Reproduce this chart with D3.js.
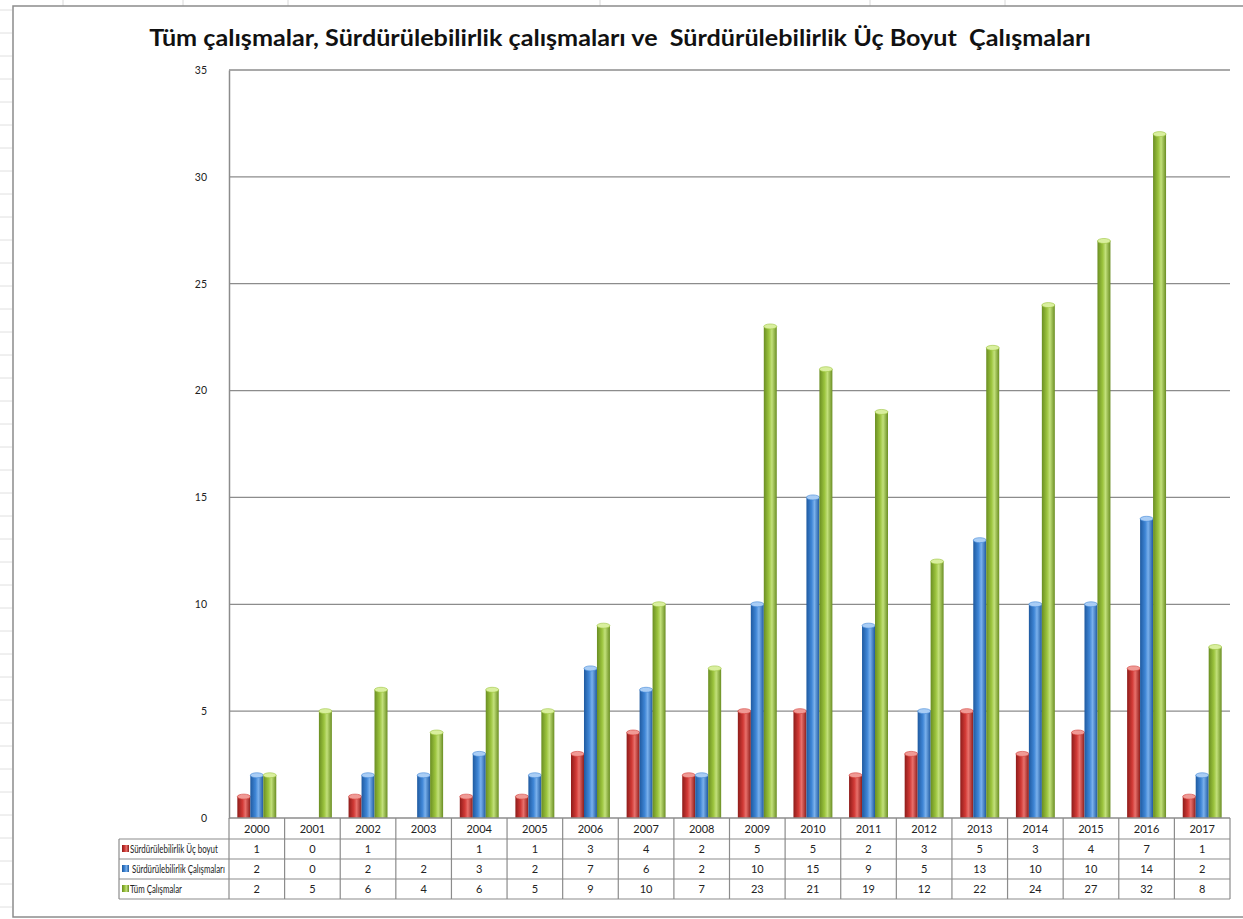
<!DOCTYPE html>
<html>
<head>
<meta charset="utf-8">
<script src="https://cdn.jsdelivr.net/npm/d3@7/dist/d3.min.js"></script>
<style>
  html, body { margin: 0; padding: 0; background: #fff; }
  svg { display: block; }
  text.pre { white-space: pre; }
</style>
</head>
<body>
<svg id="chart" width="1243" height="919"></svg>
<script>
// ---- DATA ----
const years = ["2000","2001","2002","2003","2004","2005","2006","2007","2008","2009","2010","2011","2012","2013","2014","2015","2016","2017"];
const seriesNames = ["Sürdürülebilirlik Üç boyut", " Sürdürülebilirlik Çalışmaları", "Tüm Çalışmalar"];
const ucBoyut   = [1, 0, 1, null, 1, 1, 3, 4, 2, 5, 5, 2, 3, 5, 3, 4, 7, 1];
const surdCalis = [2, 0, 2, 2, 3, 2, 7, 6, 2, 10, 15, 9, 5, 13, 10, 10, 14, 2];
const tumCalis  = [2, 5, 6, 4, 6, 5, 9, 10, 7, 23, 21, 19, 12, 22, 24, 27, 32, 8];
const yTicks = [0, 5, 10, 15, 20, 25, 30, 35];
const titleText = "Tüm çalışmalar, Sürdürülebilirlik çalışmaları ve  Sürdürülebilirlik Üç Boyut  Çalışmaları";

const seriesValues = [ucBoyut, surdCalis, tumCalis];
const colors = [
  {dark: "#8e1c1a", mid: "#d23a36", light: "#e8706b", cap: "#f09a95"},
  {dark: "#1f5aa0", mid: "#3f86d6", light: "#79b0ec", cap: "#a9cdf5"},
  {dark: "#6a8e22", mid: "#9cc43e", light: "#c2e07a", cap: "#d9ef9e"}
];
const labelWidths = [88, 95, 52];

const svg = d3.select("#chart");
const W = 1243, H = 919;

// sheet background lines (behind chart)
const bg = svg.append("g");
[63, 183, 288, 600, 870, 1005].forEach(x => {
  bg.append("line").attr("x1", x).attr("x2", x).attr("y1", 0).attr("y2", 6)
    .attr("stroke", "#d8d8d8").attr("stroke-width", 1);
});
for (let y = 10; y < H; y += 23) {
  bg.append("line").attr("x1", 0).attr("x2", 12).attr("y1", y).attr("y2", y)
    .attr("stroke", "#e0e0e0").attr("stroke-width", 1);
}

// chart frame
svg.append("rect").attr("x", 13).attr("y", 6).attr("width", W).attr("height", 911)
  .attr("fill", "#fff").attr("stroke", "#8c8c8c").attr("stroke-width", 1.5);

// gradients
const defs = svg.append("defs");
colors.forEach((c, i) => {
  const g = defs.append("linearGradient").attr("id", "grad" + i)
    .attr("x1", "0%").attr("x2", "100%").attr("y1", "0%").attr("y2", "0%");
  g.append("stop").attr("offset", "0%").attr("stop-color", c.dark);
  g.append("stop").attr("offset", "40%").attr("stop-color", c.mid);
  g.append("stop").attr("offset", "62%").attr("stop-color", c.light);
  g.append("stop").attr("offset", "100%").attr("stop-color", c.dark);
});

const plotL = 229, plotR = 1230, plotT = 70, plotB = 818;

const x = d3.scaleBand().domain(years).range([plotL, plotR]).padding(0);
const x1 = d3.scaleBand().domain([0, 1, 2])
  .range([x.bandwidth() * 0.15, x.bandwidth() * 0.85]).padding(0);
const y = d3.scaleLinear().domain([0, 35]).range([plotB, plotT]);

// helper: horizontally scale a text to a target width via transform
function fitWidth(sel, x0, y0, target, anchorMiddle) {
  const node = sel.node();
  const w = node.getComputedTextLength();
  const sx = target / w;
  sel.attr("x", 0).attr("y", 0)
    .attr("transform", `translate(${x0},${y0}) scale(${sx},1)`);
}

// title
const title = svg.append("text").attr("class", "pre").attr("text-anchor", "middle")
  .attr("font-family", "Lato, 'Open Sans', sans-serif").attr("font-weight", "bold")
  .attr("font-size", 22).attr("fill", "#111")
  .text(titleText);
fitWidth(title, 620, 46, 942);

// gridlines
svg.append("g").selectAll("line").data(yTicks.filter(d => d > 0)).join("line")
  .attr("x1", plotL).attr("x2", plotR)
  .attr("y1", d => y(d)).attr("y2", d => y(d))
  .attr("stroke", "#8c8c8c").attr("stroke-width", 1.3);

// y axis
const yAxis = d3.axisLeft(y).tickValues(yTicks).tickSize(0).tickPadding(22);
const yg = svg.append("g").attr("transform", `translate(${plotL},0)`).call(yAxis);
yg.select(".domain").attr("stroke", "#8c8c8c").attr("stroke-width", 1.5);
yg.selectAll("text").attr("font-family", "Lato, 'Open Sans', sans-serif")
  .attr("font-size", 10.5).attr("fill", "#222");

// bars
const bars = svg.append("g");
years.forEach((yr, i) => {
  seriesValues.forEach((vals, s) => {
    const v = vals[i];
    if (!v) return;
    const bx = x(yr) + x1(s);
    const bw = x1.bandwidth();
    const top = y(v);
    const ry = 2.5;
    bars.append("rect").attr("x", bx).attr("y", top).attr("width", bw)
      .attr("height", plotB - top).attr("fill", `url(#grad${s})`);
    bars.append("ellipse").attr("cx", bx + bw / 2).attr("cy", top)
      .attr("rx", bw / 2).attr("ry", ry).attr("fill", colors[s].cap)
      .attr("stroke", colors[s].mid).attr("stroke-width", 0.6);
  });
});

// x axis baseline
svg.append("line").attr("x1", plotL).attr("x2", plotR).attr("y1", plotB).attr("y2", plotB)
  .attr("stroke", "#8c8c8c").attr("stroke-width", 1.5);

// data table
const rowTop = [plotB, plotB + 21, plotB + 41, plotB + 61];
const tableBottom = plotB + 81;
const labelL = 119;
const tbl = svg.append("g");
const lineStyle = sel => sel.attr("stroke", "#8c8c8c").attr("stroke-width", 1.2);

rowTop.slice(1).concat([tableBottom]).forEach(yy => {
  tbl.append("line").attr("x1", labelL).attr("x2", plotR).attr("y1", yy).attr("y2", yy).call(lineStyle);
});
years.concat(["end"]).forEach((yr, i) => {
  const xx = i < years.length ? x(yr) : plotR;
  tbl.append("line").attr("x1", xx).attr("x2", xx).attr("y1", plotB).attr("y2", tableBottom).call(lineStyle);
});
tbl.append("line").attr("x1", labelL).attr("x2", labelL).attr("y1", rowTop[1]).attr("y2", tableBottom).call(lineStyle);

const cellFont = "Lato, 'Open Sans', sans-serif";
tbl.selectAll("text.yr").data(years).join("text").attr("class", "yr")
  .attr("x", d => x(d) + x.bandwidth() / 2).attr("y", rowTop[0] + 14.5)
  .attr("text-anchor", "middle").attr("font-family", cellFont).attr("font-size", 11)
  .attr("fill", "#222").text(d => d);

seriesValues.forEach((vals, s) => {
  const ry = rowTop[s + 1];
  tbl.append("rect").attr("x", labelL + 3).attr("y", ry + 6).attr("width", 7).attr("height", 7)
    .attr("fill", `url(#grad${s})`);
  const lab = tbl.append("text").attr("class", "pre")
    .attr("font-family", cellFont).attr("font-size", 10.5).attr("fill", "#222")
    .text(seriesNames[s]);
  fitWidth(lab, labelL + 11, ry + 14, labelWidths[s]);
  tbl.selectAll(null).data(vals.map((v, i) => ({v, yr: years[i]}))).join("text")
    .attr("x", d => x(d.yr) + x.bandwidth() / 2).attr("y", ry + 14)
    .attr("text-anchor", "middle").attr("font-family", cellFont).attr("font-size", 11)
    .attr("fill", "#222").text(d => d.v === null ? "" : d.v);
});
</script>
</body>
</html>
